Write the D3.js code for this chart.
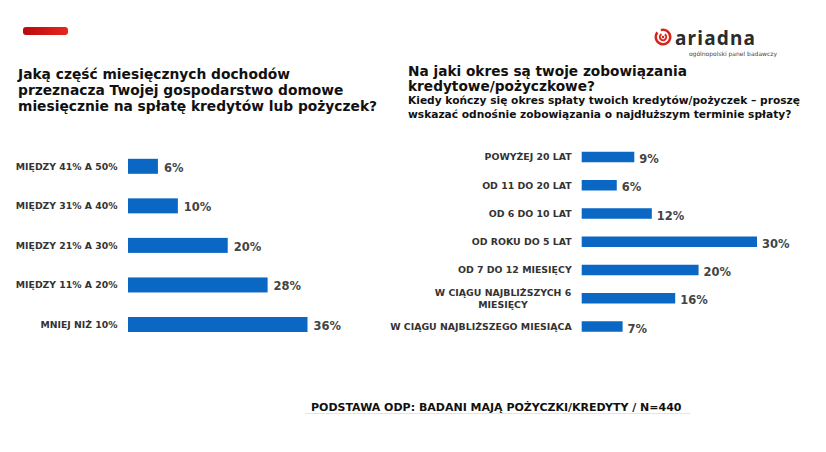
<!DOCTYPE html>
<html>
<head>
<meta charset="utf-8">
<script src="https://cdn.jsdelivr.net/npm/d3@7"></script>
<style>
  body { margin: 0; background: #fff; }
  text { font-family: "DejaVu Sans", sans-serif; font-weight: bold; }
</style>
</head>
<body>
<svg id="chart"></svg>
<script>
// dane - lewy wykres (udział dochodów)
const leftCategories = ["MIĘDZY 41% A 50%", "MIĘDZY 31% A 40%", "MIĘDZY 21% A 30%", "MIĘDZY 11% A 20%", "MNIEJ NIŻ 10%"];
const leftValues = [6, 10, 20, 28, 36];

// dane - prawy wykres (okres zobowiązań)
const rightCategories = ["POWYŻEJ 20 LAT", "OD 11 DO 20 LAT", "OD 6 DO 10 LAT", "OD ROKU DO 5 LAT", "OD 7 DO 12 MIESIĘCY", "W CIĄGU NAJBLIŻSZYCH 6|MIESIĘCY", "W CIĄGU NAJBLIŻSZEGO MIESIĄCA"];
const rightValues = [9, 6, 12, 30, 20, 16, 7];

const leftTitle = ["Jaką część miesięcznych dochodów", "przeznacza Twojej gospodarstwo domowe", "miesięcznie na spłatę kredytów lub pożyczek?"];
const rightTitle = ["Na jaki okres są twoje zobowiązania", "kredytowe/pożyczkowe?"];
const rightSubtitle = ["Kiedy kończy się okres spłaty twoich kredytów/pożyczek – proszę", "wskazać odnośnie zobowiązania o najdłuższym terminie spłaty?"];
const footnote = "PODSTAWA ODP: BADANI MAJĄ POŻYCZKI/KREDYTY / N=440";

const width = 826, height = 452;
const blue = "#0a67c4";
const textColor = "#333";

const svg = d3.select("#chart")
    .attr("width", width)
    .attr("height", height);

// czerwony pasek w lewym górnym rogu
const defs = svg.append("defs");
const grad = defs.append("linearGradient").attr("id", "redgrad");
grad.append("stop").attr("offset", "0%").attr("stop-color", "#b80a0a");
grad.append("stop").attr("offset", "100%").attr("stop-color", "#e8261e");
svg.append("rect")
    .attr("x", 23).attr("y", 27)
    .attr("width", 45).attr("height", 8)
    .attr("rx", 3)
    .attr("fill", "url(#redgrad)");

// logo ariadna
const logo = svg.append("g").attr("transform", "translate(663,37)");
logo.append("path")
    .attr("d", d3.arc()({ innerRadius: 6, outerRadius: 8.5, startAngle: -0.3, endAngle: 5.4 }))
    .attr("fill", "#d9241c");
logo.append("path")
    .attr("d", d3.arc()({ innerRadius: 2.2, outerRadius: 4.2, startAngle: 0.6, endAngle: 5.8 }))
    .attr("fill", "#d9241c");
logo.append("circle").attr("r", 1.3).attr("fill", "#d9241c");
svg.append("text")
    .attr("x", 675).attr("y", 44.5)
    .attr("font-size", 19)
    .attr("fill", "#2b2b2b")
    .style("font-family", "'Noto Sans', sans-serif")
    .style("letter-spacing", "1.2px")
    .text("ariadna");
svg.append("text")
    .attr("x", 777).attr("y", 56)
    .attr("text-anchor", "end")
    .attr("font-size", 6)
    .attr("fill", "#444")
    .style("font-weight", "normal")
    .text("ogólnopolski panel badawczy");

// tytuły
svg.append("g").selectAll("text")
    .data(leftTitle)
    .join("text")
    .attr("x", 18)
    .attr("y", (d, i) => 79 + i * 16)
    .attr("font-size", 13.8)
    .attr("fill", "#111")
    .text(d => d);

svg.append("g").selectAll("text")
    .data(rightTitle)
    .join("text")
    .attr("x", 408)
    .attr("y", (d, i) => 76 + i * 15)
    .attr("font-size", 13.7)
    .attr("fill", "#111")
    .text(d => d);

svg.append("g").selectAll("text")
    .data(rightSubtitle)
    .join("text")
    .attr("x", 408)
    .attr("y", (d, i) => 104 + i * 14)
    .attr("font-size", 10.65)
    .attr("fill", "#111")
    .text(d => d);

// lewy wykres
const xLeft = d3.scaleLinear().domain([0, 36]).range([128, 307.5]);
const yLeft = d3.scalePoint().domain(leftCategories).range([166.3, 324.5]);
const barHLeft = 15;

const gl = svg.append("g");
gl.selectAll("rect")
    .data(leftValues)
    .join("rect")
    .attr("x", xLeft(0))
    .attr("y", (d, i) => yLeft(leftCategories[i]) - barHLeft / 2)
    .attr("width", d => xLeft(d) - xLeft(0))
    .attr("height", barHLeft)
    .attr("fill", blue);

gl.selectAll(".cat")
    .data(leftCategories)
    .join("text")
    .attr("class", "cat")
    .attr("x", 117.5)
    .attr("y", d => yLeft(d))
    .attr("dy", "0.35em")
    .attr("text-anchor", "end")
    .attr("font-size", 9.3)
    .attr("fill", textColor)
    .text(d => d);

gl.selectAll(".val")
    .data(leftValues)
    .join("text")
    .attr("class", "val")
    .attr("x", d => xLeft(d) + 6)
    .attr("y", (d, i) => yLeft(leftCategories[i]) + 1.5)
    .attr("dy", "0.35em")
    .attr("font-size", 11.5)
    .attr("fill", "#444")
    .text(d => d + "%");

// prawy wykres
const xRight = d3.scaleLinear().domain([0, 30]).range([581.7, 757]);
const yRight = d3.scalePoint().domain(rightCategories).range([157, 326.5]);
const barHRight = 10.5;

const gr = svg.append("g");
gr.selectAll("rect")
    .data(rightValues)
    .join("rect")
    .attr("x", xRight(0))
    .attr("y", (d, i) => yRight(rightCategories[i]) - barHRight / 2)
    .attr("width", d => xRight(d) - xRight(0))
    .attr("height", barHRight)
    .attr("fill", blue);

gr.selectAll(".cat")
    .data(rightCategories)
    .join("text")
    .attr("class", "cat")
    .attr("font-size", 9.4)
    .attr("fill", textColor)
    .each(function (d) {
        const lines = d.split("|");
        const t = d3.select(this);
        const cy = yRight(d);
        if (lines.length === 1) {
            t.attr("x", 571.7).attr("y", cy).attr("dy", "0.35em")
                .attr("text-anchor", "end").text(d);
        } else {
            t.attr("text-anchor", "middle");
            lines.forEach((l, i) => {
                t.append("tspan")
                    .attr("x", 503)
                    .attr("y", cy + (i - (lines.length - 1) / 2) * 12)
                    .attr("dy", "0.35em")
                    .text(l);
            });
        }
    });

gr.selectAll(".val")
    .data(rightValues)
    .join("text")
    .attr("class", "val")
    .attr("x", d => xRight(d) + 5)
    .attr("y", (d, i) => yRight(rightCategories[i]) + 2)
    .attr("dy", "0.35em")
    .attr("font-size", 11.5)
    .attr("fill", "#444")
    .text(d => d + "%");

// stopka
svg.append("line")
    .attr("x1", 305).attr("x2", 690)
    .attr("y1", 413.5).attr("y2", 413.5)
    .attr("stroke", "#e4e4e4");
svg.append("text")
    .attr("x", 311).attr("y", 411)
    .attr("font-size", 11)
    .attr("fill", "#111")
    .text(footnote);
</script>
</body>
</html>
